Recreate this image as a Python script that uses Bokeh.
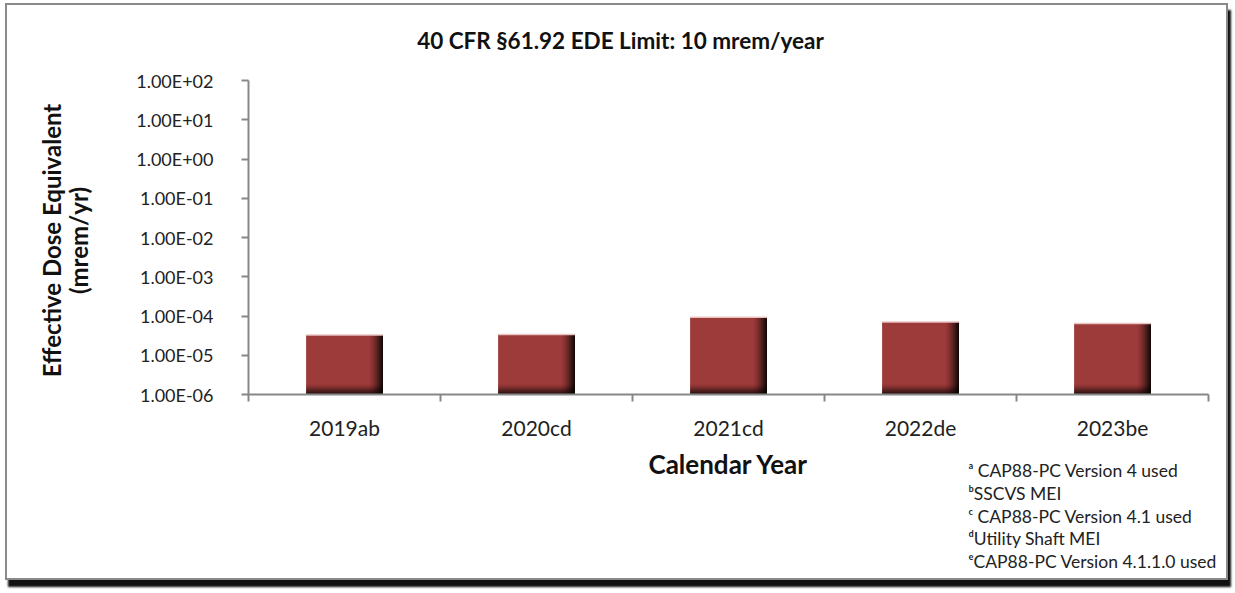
import numpy as np
from bokeh.plotting import figure
from bokeh.models import Range1d, FixedTicker, CustomJSTickFormatter, Label
from bokeh.embed import file_html
from bokeh.resources import INLINE

# ---- data ----
categories = ["2019ab", "2020cd", "2021cd", "2022de", "2023be"]
ede_values = [3.3e-5, 3.4e-5, 9.3e-5, 7.0e-5, 6.4e-5]
y_ticks = [1e-6, 1e-5, 1e-4, 1e-3, 1e-2, 1e-1, 1e0, 1e1, 1e2]
y_tick_labels = ["1.00E-06", "1.00E-05", "1.00E-04", "1.00E-03", "1.00E-02",
                 "1.00E-01", "1.00E+00", "1.00E+01", "1.00E+02"]
title_text = "40 CFR §61.92 EDE Limit: 10 mrem/year"
x_label = "Calendar Year"
y_label_lines = ["Effective Dose Equivalent", "(mrem/yr)"]
footnote_marks = ["ᵃ ", "ᵇ", "ᶜ ", "ᵈ", "ᵉ"]
footnote_texts = ["CAP88-PC Version 4 used", "SSCVS MEI", "CAP88-PC Version 4.1 used",
                  "Utility Shaft MEI", "CAP88-PC Version 4.1.1.0 used"]

FONT = "Lato"
BAR = "#9c3b39"
AXIS = "#878787"

# ---- layout constants (canvas pixels) ----
n = len(categories)
W, H = 1223, 577
AX_LEFT = 241             # canvas x of the value axis
AX_TOP, AX_BOT = 75, 389  # canvas y of the top / bottom of the value axis
PX_UNIT = 192.0           # pixels per category slot
ymin, ymax = y_ticks[0], y_ticks[-1]
px_per_dec = (AX_BOT - AX_TOP) / (np.log10(ymax) - np.log10(ymin))
x_lo = -AX_LEFT / PX_UNIT
x_hi = (W - AX_LEFT) / PX_UNIT
y_lo = 10 ** (np.log10(ymin) - (H - AX_BOT) / px_per_dec)
y_hi = 10 ** (np.log10(ymax) + AX_TOP / px_per_dec)
px_x = 1.0 / PX_UNIT
px_dec = 1.0 / px_per_dec

p = figure(width=W, height=H, x_range=Range1d(x_lo, x_hi), y_range=Range1d(y_lo, y_hi),
           y_axis_type="log", output_backend="svg", toolbar_location=None,
           min_border_left=0, min_border_right=0, min_border_top=0, min_border_bottom=0)
p.margin = (3, 0, 0, 5)
p.styles = {"border": "2px solid #8a8a8a", "box-shadow": "3px 7px 2px #111"}
p.outline_line_color = None
p.grid.visible = False

xc = np.arange(n) + 0.5
vals = np.array(ede_values)
bw = 0.4

p.vbar(x=xc, top=vals, bottom=ymin, width=bw, fill_color=BAR, line_color=None)

# right-edge shading
ns = 14
for k in range(ns):
    a = 0.97 * (1 - k / ns) ** 1.6
    p.vbar(x=xc + bw / 2 - (k + 0.5) * px_x, top=vals, bottom=ymin, width=px_x,
           fill_color="black", fill_alpha=a, line_color=None)
# bottom shading
nb = 10
for k in range(nb):
    a = 0.95 * (1 - k / nb) ** 1.4
    p.quad(left=xc - bw / 2, right=xc + bw / 2,
           bottom=[ymin * 10 ** (k * px_dec)] * n, top=[ymin * 10 ** ((k + 1) * px_dec)] * n,
           fill_color="black", fill_alpha=a, line_color=None)
# top highlight
p.segment(x0=xc - bw / 2, x1=xc + bw / 2, y0=vals, y1=vals, line_color="#e9c4c3", line_width=1.5)

# x axis (drawn at the bottom of the value range)
xa = p.xaxis[0]
xa.fixed_location = ymin
xa.bounds = (0, n)
xa.ticker = FixedTicker(ticks=list(xc), minor_ticks=list(range(n + 1)))
xa.formatter = CustomJSTickFormatter(args=dict(cats=categories),
                                     code="return cats[Math.floor(tick)];")
xa.major_tick_out = 0
xa.major_tick_in = 0
xa.minor_tick_out = 7
xa.minor_tick_in = 0
xa.minor_tick_line_color = AXIS
xa.minor_tick_line_width = 2
xa.axis_line_color = AXIS
xa.axis_line_width = 2
xa.major_label_standoff = 13
xa.major_label_text_font = FONT
xa.major_label_text_font_size = "21px"
xa.major_label_text_color = "#222222"
xa.axis_label = x_label
xa.axis_label_text_font = FONT
xa.axis_label_text_font_style = "bold"
xa.axis_label_text_font_size = "26px"
xa.axis_label_text_color = "#111111"
xa.axis_label_standoff = 5

# y axis (drawn at the left end of the category range)
ya = p.yaxis[0]
ya.fixed_location = 0
ya.bounds = (ymin, ymax)
ya.ticker = FixedTicker(ticks=y_ticks, minor_ticks=[])
ya.formatter = CustomJSTickFormatter(
    args=dict(yt=y_ticks, yl=y_tick_labels),
    code="""
    let best = 0;
    const lt = Math.log10(tick);
    for (let i = 0; i < yt.length; i++) {
        if (Math.abs(Math.log10(yt[i]) - lt) < Math.abs(Math.log10(yt[best]) - lt)) best = i;
    }
    return yl[best];
    """)
ya.major_tick_out = 7
ya.major_tick_in = 0
ya.major_tick_line_color = AXIS
ya.major_tick_line_width = 2
ya.minor_tick_line_color = None
ya.axis_line_color = AXIS
ya.axis_line_width = 2
ya.major_label_standoff = 28
ya.major_label_text_font = FONT
ya.major_label_text_font_size = "18px"
ya.major_label_text_color = "#222222"

# y-axis title, two rotated lines (screen units: origin at the frame's bottom-left)
for cx, line in zip([44, 71], y_label_lines):
    p.add_layout(Label(x=cx, y=H - 235, x_units="screen", y_units="screen", text=line,
                       angle=np.pi / 2, text_font=FONT, text_font_style="bold",
                       text_font_size="24px", text_align="center", text_baseline="middle",
                       text_color="#111111"))

# title
p.add_layout(Label(x=613, y=H - 35, x_units="screen", y_units="screen", text=title_text,
                   text_font=FONT, text_font_style="bold", text_font_size="22.5px",
                   text_align="center", text_baseline="middle", text_color="#111111"))

# footnotes
for i, (m, t) in enumerate(zip(footnote_marks, footnote_texts)):
    yy = H - (465 + i * 22.8)
    p.add_layout(Label(x=961, y=yy, x_units="screen", y_units="screen", text=m + t,
                       text_font=FONT, text_font_size="17.5px",
                       text_align="left", text_baseline="middle", text_color="#222222"))

open("out.html", "w").write(file_html(p, INLINE))
